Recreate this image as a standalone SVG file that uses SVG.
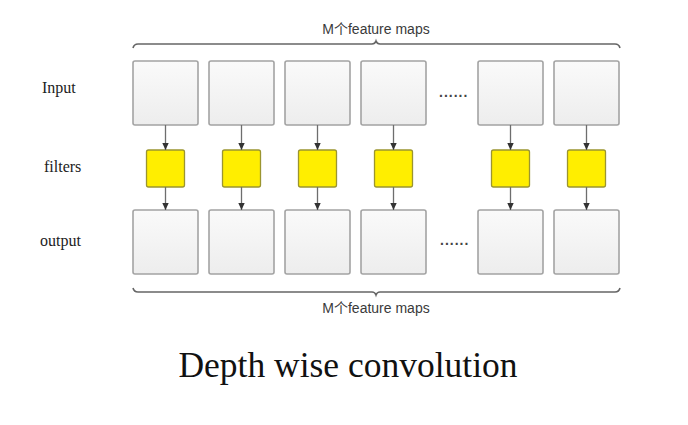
<svg xmlns="http://www.w3.org/2000/svg" width="688" height="425" viewBox="0 0 688 425">
<defs>
<linearGradient id="g" x1="0" y1="0" x2="0" y2="1">
<stop offset="0" stop-color="#fafafa"/>
<stop offset="1" stop-color="#ededed"/>
</linearGradient>
<marker id="ah" markerWidth="8" markerHeight="8" refX="7" refY="4" orient="auto" markerUnits="userSpaceOnUse">
<path d="M0,0.8 L7,4 L0,7.2 Z" fill="#333"/>
</marker>
<style>
.box{fill:url(#g);stroke:#a3a3a3;stroke-width:1.6}
.flt{fill:#ffee00;stroke:#9b9530;stroke-width:1.3}
.arr{stroke:#6e6e6e;stroke-width:1.3;fill:none;marker-end:url(#ah)}
.brace{stroke:#666;stroke-width:1.6;fill:none}
.lbl{font-family:"Liberation Serif","Times New Roman",serif;font-size:16px;fill:#222}
.cap{font-family:"Liberation Sans",Arial,"Noto Sans CJK SC",sans-serif;font-size:14px;fill:#3a3a3a}
.dots{font-family:"Liberation Sans",Arial,sans-serif;font-size:14px;font-weight:bold;fill:#444;letter-spacing:1px}
.title{font-family:"Liberation Serif","Times New Roman",serif;font-size:35.5px;fill:#111}
</style>
</defs>
<rect width="688" height="425" fill="#ffffff"/>
<g id="labels">
<text class="lbl" x="42" y="93">Input</text>
<text class="lbl" x="44" y="172">filters</text>
<text class="lbl" x="40" y="246">output</text>
</g>
<g id="top-brace">
<path class="brace" d="M133,48 Q134,44 138,44 L372,44 Q375,44 376,41 Q377,44 380,44 L615,44 Q619,44 620,48"/>
<text class="cap" x="376" y="34" text-anchor="middle">M个feature maps</text>
</g>
<g id="input1"><rect class="box" x="133" y="61" width="65" height="64" rx="2"/></g>
<g id="input2"><rect class="box" x="209" y="61" width="65" height="64" rx="2"/></g>
<g id="input3"><rect class="box" x="285" y="61" width="65" height="64" rx="2"/></g>
<g id="input4"><rect class="box" x="361" y="61" width="65" height="64" rx="2"/></g>
<g id="input-dots"><text class="dots" x="439" y="97">......</text></g>
<g id="input5"><rect class="box" x="478" y="61" width="65" height="64" rx="2"/></g>
<g id="input6"><rect class="box" x="554" y="61" width="65" height="64" rx="2"/></g>
<g id="filter1"><rect class="flt" x="146.5" y="150" width="38" height="37" rx="2"/></g>
<g id="filter2"><rect class="flt" x="222.5" y="150" width="38" height="37" rx="2"/></g>
<g id="filter3"><rect class="flt" x="298.5" y="150" width="38" height="37" rx="2"/></g>
<g id="filter4"><rect class="flt" x="374.5" y="150" width="38" height="37" rx="2"/></g>
<g id="filter5"><rect class="flt" x="491.5" y="150" width="38" height="37" rx="2"/></g>
<g id="filter6"><rect class="flt" x="567.5" y="150" width="38" height="37" rx="2"/></g>
<g id="output1"><rect class="box" x="133" y="210" width="65" height="64" rx="2"/></g>
<g id="output2"><rect class="box" x="209" y="210" width="65" height="64" rx="2"/></g>
<g id="output3"><rect class="box" x="285" y="210" width="65" height="64" rx="2"/></g>
<g id="output4"><rect class="box" x="361" y="210" width="65" height="64" rx="2"/></g>
<g id="output-dots"><text class="dots" x="440" y="245">......</text></g>
<g id="output5"><rect class="box" x="478" y="210" width="65" height="64" rx="2"/></g>
<g id="output6"><rect class="box" x="554" y="210" width="65" height="64" rx="2"/></g>
<g id="connectors">
<line class="arr" x1="165.5" y1="125" x2="165.5" y2="150"/>
<line class="arr" x1="241.5" y1="125" x2="241.5" y2="150"/>
<line class="arr" x1="317.5" y1="125" x2="317.5" y2="150"/>
<line class="arr" x1="393.5" y1="125" x2="393.5" y2="150"/>
<line class="arr" x1="510.5" y1="125" x2="510.5" y2="150"/>
<line class="arr" x1="586.5" y1="125" x2="586.5" y2="150"/>
<line class="arr" x1="165.5" y1="187" x2="165.5" y2="210"/>
<line class="arr" x1="241.5" y1="187" x2="241.5" y2="210"/>
<line class="arr" x1="317.5" y1="187" x2="317.5" y2="210"/>
<line class="arr" x1="393.5" y1="187" x2="393.5" y2="210"/>
<line class="arr" x1="510.5" y1="187" x2="510.5" y2="210"/>
<line class="arr" x1="586.5" y1="187" x2="586.5" y2="210"/>
</g>
<g id="bottom-brace">
<path class="brace" d="M133,288 Q134,292 138,292 L372,292 Q375,292 376,295 Q377,292 380,292 L615,292 Q619,292 620,288"/>
<text class="cap" x="376" y="313" text-anchor="middle">M个feature maps</text>
</g>
<g id="title">
<text class="title" x="348" y="377" text-anchor="middle">Depth wise convolution</text>
</g>
</svg>
